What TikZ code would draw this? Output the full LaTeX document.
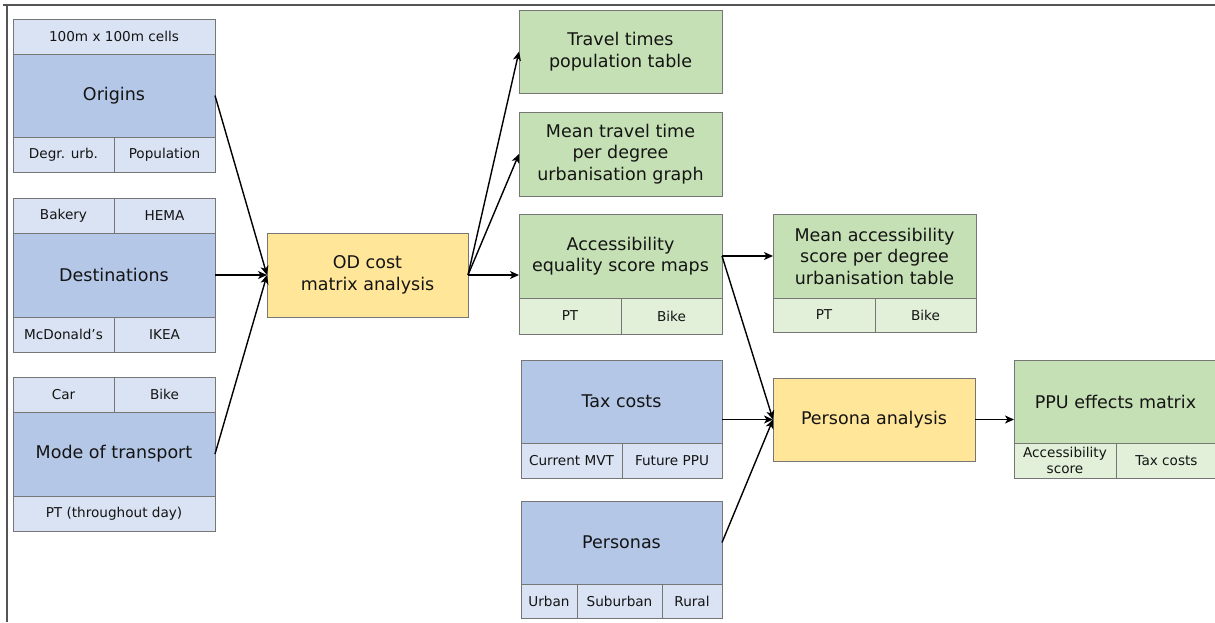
\documentclass[tikz,border=0pt]{standalone}
\usepackage{fontspec}
\setmainfont{DejaVu Sans}
\usetikzlibrary{arrows.meta}
\definecolor{bluemain}{HTML}{B4C7E7}
\definecolor{bluelight}{HTML}{DAE3F3}
\definecolor{greenmain}{HTML}{C5E0B4}
\definecolor{greenlight}{HTML}{E2F0D9}
\definecolor{yellowbox}{HTML}{FFE699}
\definecolor{boxline}{HTML}{767676}
\definecolor{framegray}{HTML}{555555}
\definecolor{ink}{HTML}{141414}
\newcommand\bigtxt{\fontsize{17.5}{21.5}\selectfont}
\newcommand\smalltxt{\fontsize{13.6}{16.6}\selectfont}
\tikzset{
  cell/.style={draw=boxline, line width=1pt, anchor=north west, inner sep=1pt,
    outer sep=0pt, align=center, text=ink},
  bmain/.style={cell, fill=bluemain, font=\bigtxt},
  bsub/.style={cell, fill=bluelight, font=\smalltxt},
  gmain/.style={cell, fill=greenmain, font=\bigtxt},
  gsub/.style={cell, fill=greenlight, font=\smalltxt},
  ybox/.style={cell, fill=yellowbox, font=\bigtxt},
  wh/.style 2 args={minimum width=#1pt, minimum height=#2pt},
  arr/.style={draw=black, line width=1.4pt, -{Stealth[length=9pt,width=8pt,inset=2.5pt]}},
  frameline/.style={draw=framegray, line width=1.4pt}
}
\begin{document}
\begin{tikzpicture}[x=1pt,y=-1pt]
\useasboundingbox (0,0) rectangle (1215,622);
\begin{scope}
\clip (0,0) rectangle (1215,622);
% page frame
\draw[frameline] (3,5) -- (1215,5);
\draw[frameline] (7,5) -- (7,622);

% origins
\node[bsub, wh={202}{35}] (origcells) at (13,19) {100m x 100m cells};
\node[bmain, wh={202}{83}] (orig) at (13,54) {Origins};
\node[bsub, wh={101}{35}] (origdeg) at (13,137) {Degr. urb.};
\node[bsub, wh={101}{35}] (origpop) at (114,137) {Population};

% destinations
\node[bsub, wh={101}{35}] (destbak) at (13,198) {Bakery};
\node[bsub, wh={101}{35}] (desthema) at (114,198) {HEMA};
\node[bmain, wh={202}{84}] (dest) at (13,233) {Destinations};
\node[bsub, wh={101}{35}] (destmc) at (13,317) {McDonald’s};
\node[bsub, wh={101}{35}] (destikea) at (114,317) {IKEA};

% mode of transport
\node[bsub, wh={101}{35}] (modecar) at (13,377) {Car};
\node[bsub, wh={101}{35}] (modebike) at (114,377) {Bike};
\node[bmain, wh={202}{84}] (mode) at (13,412) {Mode of transport};
\node[bsub, wh={202}{35}] (modept) at (13,496) {PT (throughout day)};

% OD analysis
\node[ybox, wh={201}{84}] (od) at (267,233) {OD cost\\matrix analysis};

% outputs of OD analysis
\node[gmain, wh={203}{83}] (travel) at (519,10) {Travel times\\population table};
\node[gmain, wh={203}{84}] (meantravel) at (519,112) {Mean travel time\\per degree\\urbanisation graph};
\node[gmain, wh={203}{84}] (acc) at (519,214) {Accessibility\\equality score maps};
\node[gsub, wh={102}{36}] (accpt) at (519,298) {PT};
\node[gsub, wh={101}{36}] (accbike) at (621,298) {Bike};

\node[gmain, wh={203}{84}] (macc) at (773,214) {Mean accessibility\\score per degree\\urbanisation table};
\node[gsub, wh={102}{34}] (maccpt) at (773,298) {PT};
\node[gsub, wh={101}{34}] (maccbike) at (875,298) {Bike};

% persona inputs
\node[bmain, wh={201}{83}] (tax) at (521,360) {Tax costs};
\node[bsub, wh={101}{35}] (taxmvt) at (521,443) {Current MVT};
\node[bsub, wh={100}{35}] (taxppu) at (622,443) {Future PPU};

\node[bmain, wh={201}{83}] (pers) at (521,501) {Personas};
\node[bsub, wh={56}{34}] (persurban) at (521,584) {Urban};
\node[bsub, wh={85}{34}] (perssub) at (577,584) {Suburban};
\node[bsub, wh={60}{34}] (persrural) at (662,584) {Rural};

% persona analysis and result
\node[ybox, wh={202}{83}] (pa) at (773,378) {Persona analysis};
\node[gmain, wh={203}{83}] (ppu) at (1014,360) {PPU effects matrix};
\node[gsub, wh={102}{35}] (ppuacc) at (1014,443) {Accessibility\\score};
\node[gsub, wh={101}{35}] (ppotax) at (1116,443) {Tax costs};

% connectors
\draw[arr] (orig.east) -- (od.west);
\draw[arr] (dest.east) -- (od.west);
\draw[arr] (mode.east) -- (od.west);
\draw[arr] (od.east) -- (travel.west);
\draw[arr] (od.east) -- (meantravel.west);
\draw[arr] (od.east) -- (od.east -| acc.west);
\draw[arr] (acc.east) -- (macc.west);
\draw[arr] (acc.east) -- (pa.west);
\draw[arr] (pa.west -| tax.east) -- (pa.west);
\draw[arr] (pers.east) -- (pa.west);
\draw[arr] (pa.east) -- (pa.east -| ppu.west);
\end{scope}
\end{tikzpicture}
\end{document}
